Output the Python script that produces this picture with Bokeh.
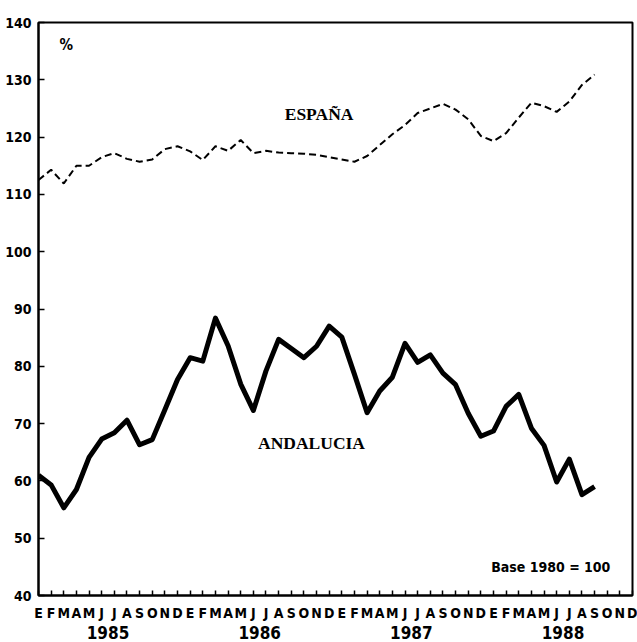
from bokeh.plotting import figure
from bokeh.models import FixedTicker, LinearAxis, Label, ColumnDataSource
from bokeh.embed import file_html
from bokeh.resources import INLINE

# ---- data ----
month_labels = list("EFMAMJJASOND") * 4
year_labels = ["1985", "1986", "1987", "1988"]
year_ticks = [5.5, 17.5, 29.5, 41.5]
y_ticks = [40, 50, 60, 70, 80, 90, 100, 110, 120, 130, 140]

espana = [112.5, 114.3, 111.9, 115.0, 115.0, 116.5, 117.2, 116.2, 115.7, 116.1,
          117.9, 118.4, 117.5, 116.0, 118.4, 117.6, 119.5, 117.2, 117.6, 117.3,
          117.2, 117.1, 116.9, 116.5, 116.1, 115.7, 116.7, 118.6, 120.5, 122.1,
          124.2, 125.0, 125.8, 124.8, 123.1, 120.2, 119.3, 120.7, 123.4, 126.0,
          125.4, 124.4, 126.2, 129.1, 130.9]

andalucia = [61.0, 59.3, 55.3, 58.5, 64.1, 67.3, 68.4, 70.6, 66.3, 67.2,
             72.4, 77.7, 81.5, 80.9, 88.4, 83.6, 76.9, 72.3, 79.2, 84.7,
             83.1, 81.5, 83.5, 87.0, 85.1, 78.6, 71.9, 75.7, 78.1, 84.0,
             80.7, 82.0, 78.8, 76.8, 71.8, 67.8, 68.7, 73.0, 75.1, 69.2,
             66.2, 59.8, 63.8, 57.6, 59.0]

SANS = "'DejaVu Sans Condensed', 'Liberation Sans Narrow', 'DejaVu Sans', sans-serif"
SERIF = "'Liberation Serif', 'DejaVu Serif', serif"

p = figure(width=637, height=642, x_range=(0, len(month_labels) - 1), y_range=(40, 140),
           output_backend="svg", toolbar_location=None,
           min_border_left=38, min_border_right=5, min_border_top=22, min_border_bottom=47,
           background_fill_color="white", border_fill_color="white",
           outline_line_color="black", outline_line_width=2)

p.xgrid.visible = False
p.ygrid.visible = False

# month axis
p.xaxis.ticker = FixedTicker(ticks=list(range(len(month_labels))))
p.xaxis.major_label_overrides = {i: m for i, m in enumerate(month_labels)}
p.xaxis.major_tick_in = 5
p.xaxis.major_tick_out = 0
p.xaxis.minor_tick_line_color = None
p.xaxis.major_tick_line_width = 1.5
p.xaxis.axis_line_width = 2
p.xaxis.major_label_standoff = 9
p.xaxis.major_label_text_font = SANS
p.xaxis.major_label_text_font_style = "bold"
p.xaxis.major_label_text_font_size = "14px"
p.xaxis.major_label_text_color = "black"

# year axis
year_axis = LinearAxis(ticker=FixedTicker(ticks=year_ticks),
                       major_label_overrides={t: y for t, y in zip(year_ticks, year_labels)},
                       axis_line_color=None, major_tick_line_color=None,
                       minor_tick_line_color=None, major_label_standoff=-4,
                       major_label_text_font=SANS, major_label_text_font_style="bold",
                       major_label_text_font_size="17px", major_label_text_color="black")
p.add_layout(year_axis, "below")

# y axis
p.yaxis.ticker = FixedTicker(ticks=y_ticks)
p.yaxis.major_tick_in = 6
p.yaxis.major_tick_out = 0
p.yaxis.minor_tick_line_color = None
p.yaxis.major_tick_line_width = 1.5
p.yaxis.axis_line_width = 2
p.yaxis.major_label_standoff = 7
p.yaxis.major_label_text_font = SANS
p.yaxis.major_label_text_font_style = "bold"
p.yaxis.major_label_text_font_size = "14px"
p.yaxis.major_label_text_color = "black"

src = ColumnDataSource(dict(x=list(range(len(espana))), espana=espana, andalucia=andalucia))
p.line("x", "andalucia", source=src, line_width=5, line_color="black", line_join="round")
p.line("x", "espana", source=src, line_width=2, line_color="black", line_dash="7 4")

p.add_layout(Label(x=2.2, y=136, text="%", text_font=SANS, text_font_style="bold",
                   text_font_size="15px", text_align="center", text_baseline="middle",
                   text_color="black"))
p.add_layout(Label(x=22.2, y=124, text="ESPAÑA", text_font=SERIF, text_font_style="bold",
                   text_font_size="17.5px", text_align="center", text_baseline="middle",
                   text_color="black"))
p.add_layout(Label(x=21.6, y=66.6, text="ANDALUCIA", text_font=SERIF, text_font_style="bold",
                   text_font_size="17.5px", text_align="center", text_baseline="middle",
                   text_color="black"))
p.add_layout(Label(x=45.25, y=45, text="Base 1980 = 100", text_font=SANS, text_font_style="bold",
                   text_font_size="14px", text_align="right", text_baseline="middle",
                   text_color="black"))

open("out.html", "w").write(file_html(p, INLINE))
